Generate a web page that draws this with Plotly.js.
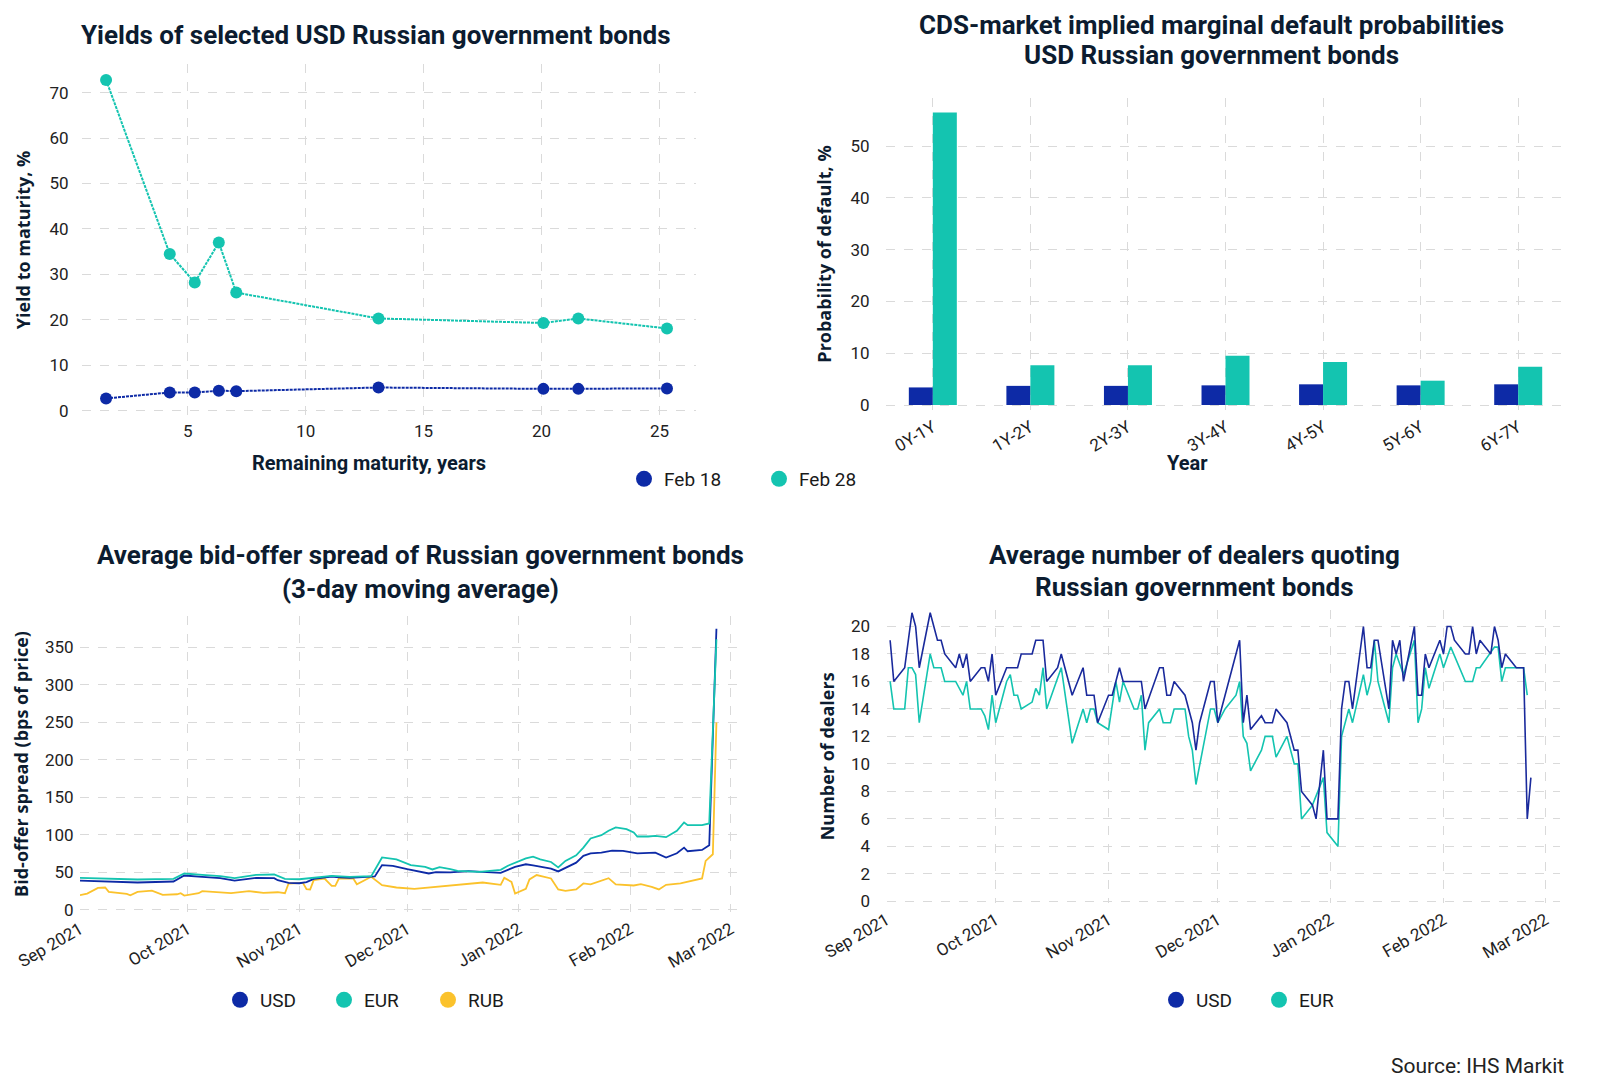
<!DOCTYPE html>
<html>
<head>
<meta charset="utf-8">
<script src="https://cdn.plot.ly/plotly-3.0.1.min.js"></script>
<style>html,body{margin:0;padding:0;background:#fff;}#chart{width:1600px;height:1089px;}</style>
</head>
<body>
<div id="chart"></div>
<script>
// ---------- Chart 1: yields ----------
var maturityYears = [1.54, 4.24, 5.30, 6.32, 7.06, 13.09, 20.08, 21.56, 25.32];
var yieldFeb18 = [2.7, 4.0, 4.0, 4.4, 4.3, 5.1, 4.8, 4.8, 4.9];
var yieldFeb28 = [72.8, 34.5, 28.2, 37.0, 26.0, 20.3, 19.3, 20.3, 18.1];

// ---------- Chart 2: CDS default probabilities ----------
var pdBuckets = ['0Y-1Y', '1Y-2Y', '2Y-3Y', '3Y-4Y', '4Y-5Y', '5Y-6Y', '6Y-7Y'];
var pdFeb18 = [3.4, 3.7, 3.7, 3.8, 4.0, 3.8, 4.0];
var pdFeb28 = [56.5, 7.7, 7.7, 9.5, 8.3, 4.7, 7.4];

// ---------- Chart 3: bid-offer spreads ----------
var spreadUsdDates = ['2021-09-01','2021-09-09','2021-09-17','2021-09-27','2021-09-28','2021-09-30','2021-10-05','2021-10-10','2021-10-14','2021-10-18','2021-10-20','2021-10-25','2021-10-26','2021-10-29','2021-11-01','2021-11-03','2021-11-05','2021-11-10','2021-11-12','2021-11-15','2021-11-19','2021-11-22','2021-11-24','2021-11-27','2021-12-01','2021-12-04','2021-12-07','2021-12-09','2021-12-13','2021-12-18','2021-12-22','2021-12-27','2021-12-31','2022-01-03','2022-01-05','2022-01-07','2022-01-10','2022-01-12','2022-01-14','2022-01-17','2022-01-19','2022-01-21','2022-01-24','2022-01-27','2022-01-30','2022-02-02','2022-02-03','2022-02-08','2022-02-11','2022-02-14','2022-02-16','2022-02-17','2022-02-21','2022-02-23','2022-02-25'];
var spreadUsd = [38.8,37.5,36.2,37.5,40,45.5,43.8,42,38.8,40.6,42.4,42,39.3,35.7,35.2,36.6,41,44.2,42.9,42.4,43.3,44.2,59.4,58.5,54,51.3,48.2,50,49.6,51.3,50.4,49.1,57.1,60.5,59.1,57.3,54.6,51,55.5,62.7,71.7,75.2,76.1,78.8,78.4,76.1,75.2,76.1,69.4,75.2,82.8,77.9,79.7,86,375];

var spreadEurDates = ['2021-09-01','2021-09-09','2021-09-17','2021-09-27','2021-09-30','2021-10-05','2021-10-10','2021-10-14','2021-10-20','2021-10-25','2021-10-28','2021-11-01','2021-11-05','2021-11-10','2021-11-15','2021-11-21','2021-11-24','2021-11-28','2021-12-02','2021-12-06','2021-12-08','2021-12-10','2021-12-13','2021-12-15','2021-12-21','2021-12-27','2021-12-29','2022-01-03','2022-01-05','2022-01-07','2022-01-10','2022-01-12','2022-01-14','2022-01-17','2022-01-19','2022-01-21','2022-01-24','2022-01-26','2022-01-28','2022-01-31','2022-02-02','2022-02-03','2022-02-06','2022-02-08','2022-02-11','2022-02-14','2022-02-16','2022-02-17','2022-02-21','2022-02-23','2022-02-25'];
var spreadEur = [42.4,41,40.2,41,48.2,46.4,44.6,42,46.4,46.9,41,40.5,42.4,45,43.8,44.6,69.6,67,59.4,57,53.6,56.7,54,51.8,50.4,53.1,58.5,68.5,70.8,67.2,63.6,56.4,65,72.5,82.8,95,99.4,105.2,109.7,107.5,103,97.6,97.6,98.5,96.7,105.2,116.4,112.8,112.8,115,361];

var spreadRubDates = ['2021-09-01','2021-09-03','2021-09-06','2021-09-08','2021-09-09','2021-09-14','2021-09-15','2021-09-17','2021-09-21','2021-09-24','2021-09-28','2021-09-29','2021-09-30','2021-10-04','2021-10-05','2021-10-09','2021-10-13','2021-10-18','2021-10-22','2021-10-26','2021-10-28','2021-10-29','2021-11-02','2021-11-03','2021-11-04','2021-11-05','2021-11-08','2021-11-10','2021-11-11','2021-11-12','2021-11-16','2021-11-17','2021-11-19','2021-11-21','2021-11-24','2021-11-28','2021-12-03','2021-12-08','2021-12-13','2021-12-15','2021-12-22','2021-12-27','2021-12-28','2021-12-30','2021-12-31','2022-01-03','2022-01-04','2022-01-06','2022-01-10','2022-01-12','2022-01-14','2022-01-17','2022-01-19','2022-01-21','2022-01-26','2022-01-28','2022-01-31','2022-02-02','2022-02-04','2022-02-07','2022-02-09','2022-02-11','2022-02-15','2022-02-18','2022-02-21','2022-02-22','2022-02-24','2022-02-25'];
var spreadRub = [19.2,21.4,29,29.5,23.7,21,19.2,23.7,25.4,19.6,20.5,21.9,18.8,21.9,24.6,22.8,21.9,24.6,22.3,23.2,21.9,34.8,35.7,27.2,26.8,39.3,41.5,31.7,31.7,41.5,41.5,33.9,39.3,43.8,32.6,29.5,27.7,29.9,31.3,33,36.2,33,42.4,37,21.4,27.8,40.3,46.1,41.6,26.9,25,26.9,34.9,33.6,42,33.6,33.1,32.2,34,30.4,26.9,33.1,34.9,38,41.6,65,73.9,250];

// ---------- Chart 4: number of dealers ----------
var dealersUsdDates = ['2021-09-02','2021-09-03','2021-09-06','2021-09-08','2021-09-09','2021-09-10','2021-09-13','2021-09-15','2021-09-16','2021-09-17','2021-09-20','2021-09-21','2021-09-22','2021-09-23','2021-09-24','2021-09-27','2021-09-28','2021-09-29','2021-09-30','2021-10-01','2021-10-04','2021-10-07','2021-10-08','2021-10-11','2021-10-12','2021-10-14','2021-10-15','2021-10-18','2021-10-19','2021-10-22','2021-10-25','2021-10-26','2021-10-28','2021-10-29','2021-11-01','2021-11-02','2021-11-04','2021-11-05','2021-11-10','2021-11-11','2021-11-15','2021-11-16','2021-11-17','2021-11-18','2021-11-19','2021-11-22','2021-11-24','2021-11-25','2021-11-26','2021-11-29','2021-11-30','2021-12-01','2021-12-07','2021-12-08','2021-12-09','2021-12-10','2021-12-13','2021-12-14','2021-12-16','2021-12-17','2021-12-20','2021-12-22','2021-12-23','2021-12-24','2021-12-27','2021-12-28','2021-12-30','2021-12-31','2022-01-03','2022-01-04','2022-01-05','2022-01-06','2022-01-07','2022-01-10','2022-01-11','2022-01-12','2022-01-13','2022-01-14','2022-01-17','2022-01-18','2022-01-19','2022-01-20','2022-01-21','2022-01-24','2022-01-25','2022-01-26','2022-01-27','2022-01-28','2022-01-31','2022-02-01','2022-02-02','2022-02-03','2022-02-04','2022-02-07','2022-02-08','2022-02-09','2022-02-10','2022-02-11','2022-02-14','2022-02-15','2022-02-16','2022-02-17','2022-02-18','2022-02-21','2022-02-23','2022-02-24','2022-02-25'];
var dealersUsd = [19,16,17,21,20,17,21,19,19,18,17,18,17,18,16,17,17,16,18,15,17,17,18,18,19,19,16,17,18,15,17,15,15,13,15,15,17,16,16,14,17,17,15,15,16,15,13,11,13,16,16,13,19,13,15,12.5,13.5,13,13,14,13,11,11,8,7,6,11,6,6,14,16,16,14,20,17,17,19,19,14,19,18,19,16,20,15,15,18,17,19,18,20,20,19,18,18,20,18,19,18,20,19,17,18,17,17,6,9];

var dealersEurDates = ['2021-09-02','2021-09-03','2021-09-06','2021-09-07','2021-09-08','2021-09-09','2021-09-10','2021-09-13','2021-09-14','2021-09-16','2021-09-17','2021-09-20','2021-09-22','2021-09-23','2021-09-24','2021-09-27','2021-09-28','2021-09-29','2021-09-30','2021-10-01','2021-10-04','2021-10-05','2021-10-06','2021-10-07','2021-10-08','2021-10-11','2021-10-12','2021-10-13','2021-10-14','2021-10-15','2021-10-19','2021-10-22','2021-10-25','2021-10-26','2021-10-27','2021-10-28','2021-10-29','2021-11-01','2021-11-03','2021-11-04','2021-11-05','2021-11-08','2021-11-09','2021-11-10','2021-11-11','2021-11-12','2021-11-15','2021-11-16','2021-11-18','2021-11-19','2021-11-22','2021-11-23','2021-11-24','2021-11-25','2021-11-29','2021-11-30','2021-12-01','2021-12-03','2021-12-06','2021-12-07','2021-12-08','2021-12-09','2021-12-10','2021-12-13','2021-12-14','2021-12-16','2021-12-17','2021-12-20','2021-12-22','2021-12-23','2021-12-24','2021-12-27','2021-12-30','2021-12-31','2022-01-03','2022-01-04','2022-01-06','2022-01-07','2022-01-10','2022-01-11','2022-01-12','2022-01-13','2022-01-14','2022-01-17','2022-01-18','2022-01-19','2022-01-21','2022-01-24','2022-01-25','2022-01-26','2022-01-27','2022-01-28','2022-01-31','2022-02-01','2022-02-03','2022-02-07','2022-02-09','2022-02-10','2022-02-11','2022-02-15','2022-02-16','2022-02-17','2022-02-18','2022-02-23','2022-02-24'];
var dealersEur = [16,14,14,17,17,16.5,13,18,17,17,16,16,15,16,14,14,13.5,12.5,15,13,16,16.5,15,15,14,14.5,15.5,15,17,14,17,11.5,14,13,14,14,13,12.5,16,14.5,16,14,14,15,11,13,14,13,13,14,14,12,11,8.5,14,14,13,14,15,16,12,11.5,9.5,11,12,12,10.5,12,10,10,6,7,9,5,4,12,14,13,16.5,15,16,19,16,13,17,18,16.5,19,13,14,17,15.5,18,17,18.5,16,16,17,17,18.5,18.5,16,17,17,15];

var navy = '#0d2aa6';
var teal = '#14c4b0';
var yellow = '#fbc22c';
var titleColor = '#0c1c30';
var tickFont = {family: 'Roboto, sans-serif', size: 17, color: '#222222'};
var yTitleFont = {family: '"Open Sans", sans-serif', size: 18, color: titleColor, weight: 700};
var xTitleFont = {family: 'Roboto, sans-serif', size: 20, color: titleColor, weight: 700};
var legendFont = {family: 'Roboto, sans-serif', size: 19, color: '#1a1a1a'};
var chartTitleFont = {family: 'Roboto, sans-serif', size: 26, color: titleColor, weight: 700};

var traces = [
  {x: maturityYears, y: yieldFeb18, type: 'scatter', mode: 'lines+markers', xaxis: 'x', yaxis: 'y', showlegend: false,
   line: {color: navy, width: 2, dash: '3px,1px'}, marker: {color: navy, size: 12}},
  {x: maturityYears, y: yieldFeb28, type: 'scatter', mode: 'lines+markers', xaxis: 'x', yaxis: 'y', showlegend: false,
   line: {color: teal, width: 2, dash: '3px,1px'}, marker: {color: teal, size: 12}},
  {x: pdBuckets, y: pdFeb18, type: 'bar', xaxis: 'x2', yaxis: 'y2', showlegend: false, marker: {color: navy}},
  {x: pdBuckets, y: pdFeb28, type: 'bar', xaxis: 'x2', yaxis: 'y2', showlegend: false, marker: {color: teal}},
  {x: [null], y: [null], type: 'scatter', mode: 'markers', xaxis: 'x', yaxis: 'y', name: 'Feb 18', legend: 'legend', marker: {color: navy, size: 16}},
  {x: [null], y: [null], type: 'scatter', mode: 'markers', xaxis: 'x', yaxis: 'y', name: 'Feb 28', legend: 'legend', marker: {color: teal, size: 16}},

  {x: spreadRubDates, y: spreadRub, type: 'scatter', mode: 'lines', xaxis: 'x3', yaxis: 'y3', showlegend: false, line: {color: yellow, width: 1.8}},
  {x: spreadUsdDates, y: spreadUsd, type: 'scatter', mode: 'lines', xaxis: 'x3', yaxis: 'y3', showlegend: false, line: {color: navy, width: 1.8}},
  {x: spreadEurDates, y: spreadEur, type: 'scatter', mode: 'lines', xaxis: 'x3', yaxis: 'y3', showlegend: false, line: {color: teal, width: 1.8}},
  {x: [null], y: [null], type: 'scatter', mode: 'markers', xaxis: 'x3', yaxis: 'y3', name: 'USD', legend: 'legend2', marker: {color: navy, size: 16}},
  {x: [null], y: [null], type: 'scatter', mode: 'markers', xaxis: 'x3', yaxis: 'y3', name: 'EUR', legend: 'legend2', marker: {color: teal, size: 16}},
  {x: [null], y: [null], type: 'scatter', mode: 'markers', xaxis: 'x3', yaxis: 'y3', name: 'RUB', legend: 'legend2', marker: {color: yellow, size: 16}},

  {x: dealersEurDates, y: dealersEur, type: 'scatter', mode: 'lines', xaxis: 'x4', yaxis: 'y4', showlegend: false, line: {color: teal, width: 1.6}},
  {x: dealersUsdDates, y: dealersUsd, type: 'scatter', mode: 'lines', xaxis: 'x4', yaxis: 'y4', showlegend: false, line: {color: '#1a2a9c', width: 1.6}},
  {x: [null], y: [null], type: 'scatter', mode: 'markers', xaxis: 'x4', yaxis: 'y4', name: 'USD', legend: 'legend3', marker: {color: navy, size: 16}},
  {x: [null], y: [null], type: 'scatter', mode: 'markers', xaxis: 'x4', yaxis: 'y4', name: 'EUR', legend: 'legend3', marker: {color: teal, size: 16}}
];

function ax(extra) {
  var base = {showgrid: true, gridcolor: '#dadada', griddash: 'dash', gridwidth: 1, zeroline: false, showline: false,
    tickfont: tickFont, ticks: 'outside', ticklen: 5, tickcolor: 'rgba(0,0,0,0)', automargin: false};
  for (var k in extra) base[k] = extra[k];
  return base;
}
var W = 1600, H = 1089;
function dx(a, b) { return [a / W, b / W]; }
function dy(top, bottom) { return [1 - bottom / H, 1 - top / H]; }
function ann(text, xpx, ypx, font, xanchor) {
  return {text: text, x: xpx / W, y: 1 - ypx / H, xref: 'paper', yref: 'paper',
    xanchor: xanchor || 'center', yanchor: 'middle', showarrow: false, font: font};
}

var layout = {
  width: W, height: H, margin: {l: 0, r: 0, t: 0, b: 0},
  paper_bgcolor: '#ffffff', plot_bgcolor: '#ffffff',
  font: {family: 'Roboto, sans-serif', color: '#222222'},
  barmode: 'group', bargap: 0.508, bargroupgap: 0,
  xaxis: ax({domain: dx(82, 696), range: [0.52, 26.55], tickvals: [5, 10, 15, 20, 25], anchor: 'y', ticklen: 0}),
  yaxis: ax({domain: dy(64, 416), range: [-1.17, 76.3], dtick: 10, anchor: 'x', ticklen: 9,
    title: {text: 'Yield to maturity, %', font: yTitleFont, standoff: 14}}),
  xaxis2: ax({domain: dx(886, 1566), range: [-0.48, 6.49], anchor: 'y2', tickangle: -30, type: 'category', ticklen: 0}),
  yaxis2: ax({domain: dy(98, 410), range: [-0.96, 59.3], dtick: 10, anchor: 'x2', ticklen: 12,
    title: {text: 'Probability of default, %', font: yTitleFont, standoff: 14}}),
  xaxis3: ax({domain: dx(80, 744), range: ['2021-09-01', '2022-03-04 16:00'], anchor: 'y3', type: 'date',
    dtick: 'M1', tick0: '2021-09-01', tickformat: '%b %Y', tickangle: -30, ticklen: 0}),
  yaxis3: ax({domain: dy(616, 912), range: [-3.2, 392], dtick: 50, anchor: 'x3', ticklen: 2,
    title: {text: 'Bid-offer spread (bps of price)', font: yTitleFont, standoff: 11}}),
  xaxis4: ax({domain: dx(886.5, 1560), range: ['2021-09-01', '2022-03-05'], anchor: 'y4', type: 'date',
    dtick: 'M1', tick0: '2021-09-01', tickformat: '%b %Y', tickangle: -30, ticklen: 0}),
  yaxis4: ax({domain: dy(610, 902.7), range: [-0.1, 21.2], dtick: 2, anchor: 'x4', ticklen: 12,
    title: {text: 'Number of dealers', font: yTitleFont, standoff: 11}}),
  legend: {orientation: 'h', x: 624 / W, xanchor: 'left', y: 1 - 479 / H, yanchor: 'middle', font: legendFont,
    entrywidth: 90, entrywidthmode: 'pixels', bgcolor: 'rgba(0,0,0,0)'},
  legend2: {orientation: 'h', x: 220 / W, xanchor: 'left', y: 1 - 1000 / H, yanchor: 'middle', font: legendFont,
    entrywidth: 59, entrywidthmode: 'pixels', bgcolor: 'rgba(0,0,0,0)'},
  legend3: {orientation: 'h', x: 1156 / W, xanchor: 'left', y: 1 - 1000 / H, yanchor: 'middle', font: legendFont,
    entrywidth: 58, entrywidthmode: 'pixels', bgcolor: 'rgba(0,0,0,0)'},
  annotations: [
    ann('Yields of selected USD Russian government bonds', 376, 35, chartTitleFont),
    ann('CDS-market implied marginal default probabilities', 1211, 25, chartTitleFont),
    ann('USD Russian government bonds', 1211, 55, chartTitleFont),
    ann('Average bid-offer spread of Russian government bonds', 420, 555, chartTitleFont),
    ann('(3-day moving average)', 420, 589, chartTitleFont),
    ann('Average number of dealers quoting', 1194, 555, chartTitleFont),
    ann('Russian government bonds', 1194, 587, chartTitleFont),
    ann('Remaining maturity, years', 369, 463, xTitleFont),
    ann('Year', 1187, 463, xTitleFont),
    ann('Source: IHS Markit', 1566, 1066, {family: 'Roboto, sans-serif', size: 21, color: '#222222'}, 'right')
  ]
};

Plotly.newPlot('chart', traces, layout, {displayModeBar: false, staticPlot: true});
</script>
</body>
</html>
